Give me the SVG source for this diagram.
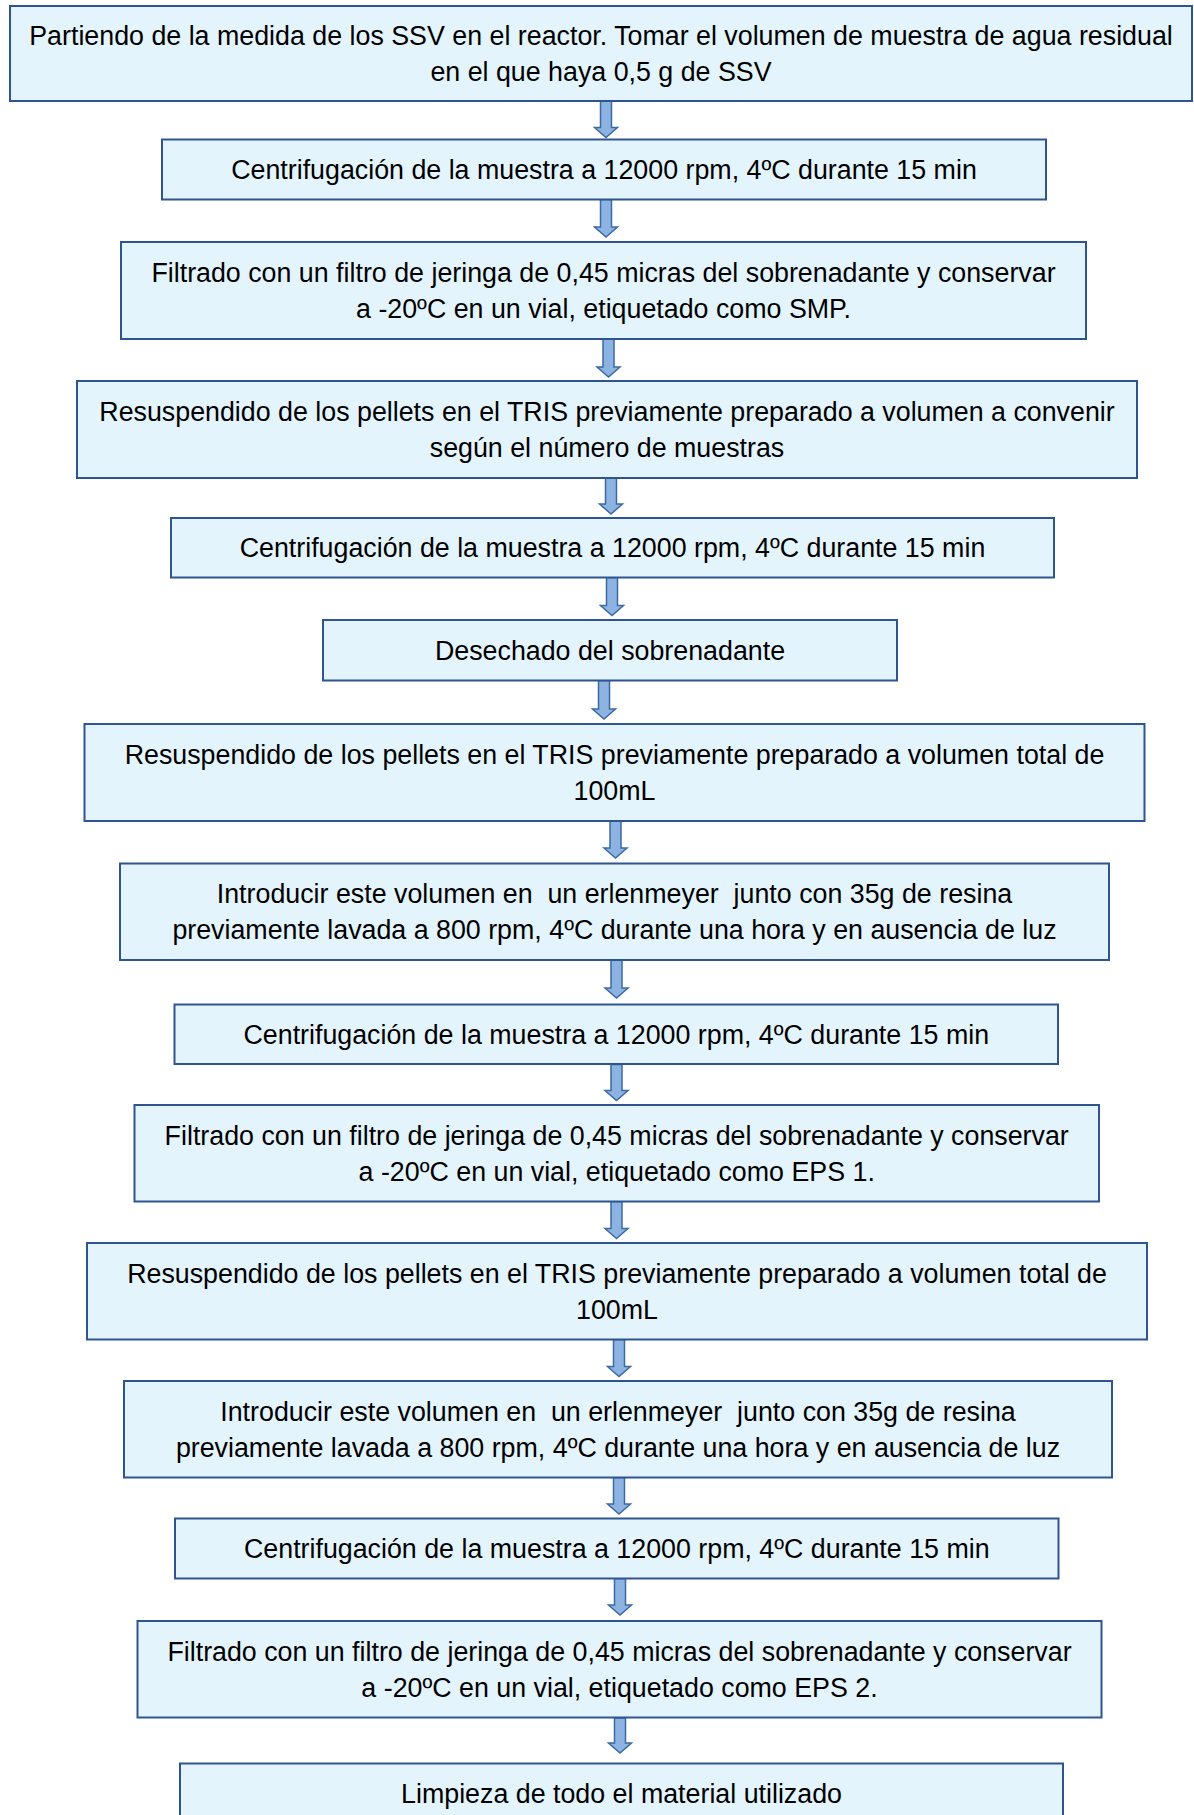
<svg xmlns="http://www.w3.org/2000/svg" width="1194" height="1815" viewBox="0 0 1194 1815">
<style>
.box{fill:#E4F4FD;stroke:#2F5590;stroke-width:2}
.arr{fill:#8DB3E2;stroke:#3C6AA3;stroke-width:1.5;stroke-linejoin:miter}
text{font-family:"Liberation Sans",Arial,sans-serif;font-size:26.8px;fill:#000;text-anchor:middle;white-space:pre}
</style>
<rect width="1194" height="1815" fill="#fff"/>
<g id="connectors">
<polygon class="arr" points="600.5,101 611.5,101 611.5,127.5 617.5,127.5 606,137.5 594.5,127.5 600.5,127.5"/>
<polygon class="arr" points="600.5,199.5 611.5,199.5 611.5,227 617.5,227 606,237 594.5,227 600.5,227"/>
<polygon class="arr" points="603,339 614,339 614,367 620,367 608.5,377 597,367 603,367"/>
<polygon class="arr" points="605.5,478 616.5,478 616.5,504 622.5,504 611,514 599.5,504 605.5,504"/>
<polygon class="arr" points="606.5,577.5 617.5,577.5 617.5,605.5 623.5,605.5 612,615.5 600.5,605.5 606.5,605.5"/>
<polygon class="arr" points="598.5,680.5 609.5,680.5 609.5,709 615.5,709 604,719 592.5,709 598.5,709"/>
<polygon class="arr" points="610,821 621,821 621,848 627,848 615.5,858 604,848 610,848"/>
<polygon class="arr" points="611,960 622,960 622,988 628,988 616.5,998 605,988 611,988"/>
<polygon class="arr" points="611,1064.5 622,1064.5 622,1090.5 628,1090.5 616.5,1100.5 605,1090.5 611,1090.5"/>
<polygon class="arr" points="611,1201.5 622,1201.5 622,1228.5 628,1228.5 616.5,1238.5 605,1228.5 611,1228.5"/>
<polygon class="arr" points="613.5,1339.5 624.5,1339.5 624.5,1366.5 630.5,1366.5 619,1376.5 607.5,1366.5 613.5,1366.5"/>
<polygon class="arr" points="613.5,1477.5 624.5,1477.5 624.5,1504 630.5,1504 619,1514 607.5,1504 613.5,1504"/>
<polygon class="arr" points="614.5,1578.5 625.5,1578.5 625.5,1605 631.5,1605 620,1615 608.5,1605 614.5,1605"/>
<polygon class="arr" points="614.5,1718 625.5,1718 625.5,1743 631.5,1743 620,1753 608.5,1743 614.5,1743"/>
</g>
<g id="n1"><rect class="box" x="10" y="6" width="1182" height="95"/>
<text x="601" y="45">Partiendo de la medida de los SSV en el reactor. Tomar el volumen de muestra de agua residual</text>
<text x="601" y="81">en el que haya 0,5 g de SSV</text></g>
<g id="n2"><rect class="box" x="162" y="139.5" width="884" height="60"/>
<text x="604" y="179">Centrifugación de la muestra a 12000 rpm, 4ºC durante 15 min</text></g>
<g id="n3"><rect class="box" x="121" y="242" width="965" height="97"/>
<text x="603.5" y="282">Filtrado con un filtro de jeringa de 0,45 micras del sobrenadante y conservar</text>
<text x="603.5" y="318">a -20ºC en un vial, etiquetado como SMP.</text></g>
<g id="n4"><rect class="box" x="77" y="381" width="1060" height="97"/>
<text x="607" y="421">Resuspendido de los pellets en el TRIS previamente preparado a volumen a convenir</text>
<text x="607" y="457">según el número de muestras</text></g>
<g id="n5"><rect class="box" x="171" y="518" width="883" height="59.5"/>
<text x="612.5" y="557">Centrifugación de la muestra a 12000 rpm, 4ºC durante 15 min</text></g>
<g id="n6"><rect class="box" x="323" y="620" width="574" height="60.5"/>
<text x="610" y="659.5">Desechado del sobrenadante</text></g>
<g id="n7"><rect class="box" x="84.5" y="724" width="1060" height="97"/>
<text x="614.5" y="764">Resuspendido de los pellets en el TRIS previamente preparado a volumen total de</text>
<text x="614.5" y="800">100mL</text></g>
<g id="n8"><rect class="box" x="120" y="863.5" width="989" height="96.5"/>
<text x="614.5" y="903">Introducir este volumen en  un erlenmeyer  junto con 35g de resina</text>
<text x="614.5" y="939">previamente lavada a 800 rpm, 4ºC durante una hora y en ausencia de luz</text></g>
<g id="n9"><rect class="box" x="174.5" y="1004.5" width="883.5" height="59.5"/>
<text x="616.3" y="1043.5">Centrifugación de la muestra a 12000 rpm, 4ºC durante 15 min</text></g>
<g id="n10"><rect class="box" x="134.5" y="1105" width="964.5" height="96.5"/>
<text x="616.7" y="1144.5">Filtrado con un filtro de jeringa de 0,45 micras del sobrenadante y conservar</text>
<text x="616.7" y="1180.5">a -20ºC en un vial, etiquetado como EPS 1.</text></g>
<g id="n11"><rect class="box" x="87" y="1243" width="1060" height="96.5"/>
<text x="617" y="1282.5">Resuspendido de los pellets en el TRIS previamente preparado a volumen total de</text>
<text x="617" y="1318.5">100mL</text></g>
<g id="n12"><rect class="box" x="124" y="1381" width="988" height="96.5"/>
<text x="618" y="1420.5">Introducir este volumen en  un erlenmeyer  junto con 35g de resina</text>
<text x="618" y="1456.5">previamente lavada a 800 rpm, 4ºC durante una hora y en ausencia de luz</text></g>
<g id="n13"><rect class="box" x="175" y="1518.5" width="883.5" height="60"/>
<text x="616.8" y="1558">Centrifugación de la muestra a 12000 rpm, 4ºC durante 15 min</text></g>
<g id="n14"><rect class="box" x="137.5" y="1621" width="964" height="96.5"/>
<text x="619.5" y="1660.5">Filtrado con un filtro de jeringa de 0,45 micras del sobrenadante y conservar</text>
<text x="619.5" y="1696.5">a -20ºC en un vial, etiquetado como EPS 2.</text></g>
<g id="n15"><rect class="box" x="180" y="1763.5" width="883" height="60"/>
<text x="621.5" y="1802.5">Limpieza de todo el material utilizado</text></g>
</svg>
